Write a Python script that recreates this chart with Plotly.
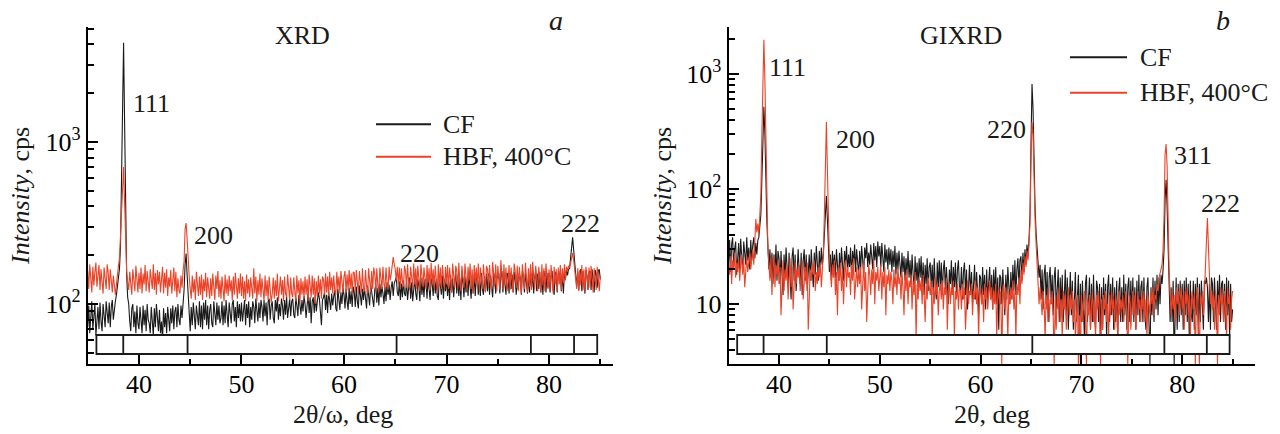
import plotly.graph_objects as go

# ---------------- data (2theta grid: 35.0 .. 85.0, step 0.1) ----------------
two_theta_start = 35.0
two_theta_step = 0.1

# Panel a (XRD, 2theta/omega), intensity in cps
xrd_cf = [
    72, 98, 66, 92, 104, 70, 88, 100, 64, 84,
    96, 70, 102, 78, 68, 100, 86, 72, 104, 82,
    76, 102, 72, 96, 106, 80, 98, 104, 114, 126,
    140, 165, 230, 520, 1900, 4100, 1300, 330, 150, 110,
    100, 78, 68, 94, 100, 72, 90, 66, 98, 76,
    70, 96, 82, 66, 98, 74, 92, 68, 100, 80,
    76, 66, 96, 80, 64, 94, 72, 100, 78, 68,
    92, 66, 78, 60, 94, 72, 88, 66, 96, 74,
    68, 94, 76, 98, 70, 90, 96, 72, 100, 80,
    74, 98, 82, 100, 122, 175, 205, 150, 108, 92,
    68, 96, 74, 102, 80, 70, 98, 84, 74, 104,
    72, 98, 70, 102, 80, 106, 74, 98, 70, 92,
    100, 76, 72, 104, 84, 74, 102, 80, 98, 76,
    82, 104, 74, 98, 76, 106, 86, 72, 102, 88,
    76, 100, 106, 78, 96, 72, 104, 82, 100, 78,
    102, 78, 92, 106, 74, 100, 82, 104, 72, 96,
    80, 104, 96, 76, 108, 88, 78, 102, 82, 106,
    96, 78, 106, 84, 102, 74, 104, 108, 80, 98,
    104, 82, 76, 106, 90, 110, 80, 100, 84, 108,
    98, 80, 106, 86, 112, 82, 102, 108, 84, 104,
    108, 86, 82, 110, 98, 84, 114, 100, 86, 106,
    90, 112, 100, 82, 106, 116, 88, 110, 76, 104,
    110, 88, 114, 90, 104, 118, 108, 90, 74, 106,
    110, 118, 92, 114, 88, 120, 106, 92, 116, 98,
    112, 122, 94, 90, 124, 110, 92, 118, 100, 126,
    114, 94, 124, 104, 92, 126, 100, 120, 96, 128,
    118, 96, 128, 104, 94, 130, 116, 98, 124, 106,
    126, 100, 94, 130, 116, 98, 132, 118, 104, 96,
    122, 132, 102, 126, 98, 134, 110, 128, 116, 100,
    128, 104, 136, 114, 132, 106, 126, 138, 112, 134,
    140, 146, 118, 112, 138, 106, 134, 110, 140, 116,
    112, 140, 106, 132, 146, 108, 136, 104, 130, 144,
    116, 106, 142, 130, 104, 146, 114, 138, 110, 142,
    138, 108, 146, 118, 106, 144, 134, 112, 150, 116,
    142, 112, 106, 148, 134, 114, 150, 108, 142, 120,
    146, 112, 138, 106, 150, 118, 144, 110, 138, 154,
    116, 148, 112, 144, 106, 152, 136, 110, 148, 118,
    142, 112, 154, 122, 108, 148, 116, 152, 112, 142,
    150, 114, 140, 112, 156, 124, 114, 148, 120, 154,
    120, 154, 114, 150, 124, 110, 156, 142, 116, 150,
    144, 156, 116, 150, 160, 118, 154, 126, 114, 156,
    150, 116, 156, 124, 152, 118, 158, 140, 114, 152,
    122, 156, 144, 114, 160, 148, 118, 156, 130, 116,
    152, 118, 158, 126, 156, 116, 146, 160, 120, 154,
    124, 158, 118, 150, 114, 160, 146, 118, 156, 126,
    156, 118, 148, 160, 124, 114, 158, 146, 118, 156,
    146, 160, 120, 156, 116, 158, 144, 162, 150, 164,
    166, 186, 222, 258, 218, 178, 152, 128, 158, 122,
    154, 164, 120, 160, 130, 116, 162, 150, 122, 158,
    160, 122, 164, 134, 118, 162, 152, 126, 160, 164,
    142,
]

xrd_hbf = [
    160, 124, 176, 138, 118, 170, 130, 158, 180, 128,
    152, 174, 122, 164, 136, 116, 168, 146, 124, 176,
    156, 122, 164, 140, 118, 150, 126, 114, 132, 156,
    172, 192, 262, 430, 600, 700, 420, 210, 160, 136,
    122, 158, 130, 114, 164, 142, 120, 172, 136, 118,
    156, 124, 168, 116, 154, 132, 174, 120, 160, 128,
    118, 164, 140, 124, 176, 122, 156, 114, 162, 132,
    158, 118, 142, 170, 116, 156, 126, 164, 112, 146,
    128, 162, 116, 150, 168, 120, 158, 110, 144, 122,
    116, 150, 126, 160, 182, 290, 316, 250, 172, 148,
    124, 108, 150, 118, 142, 106, 158, 122, 112, 148,
    114, 152, 106, 142, 120, 156, 110, 146, 124, 108,
    144, 112, 154, 120, 106, 150, 124, 160, 110, 140,
    108, 148, 120, 104, 152, 116, 142, 112, 150, 120,
    140, 106, 148, 114, 156, 120, 108, 144, 116, 154,
    112, 148, 108, 138, 104, 152, 116, 142, 110, 146,
    120, 108, 166, 116, 148, 104, 140, 114, 154, 110,
    144, 116, 104, 150, 112, 140, 106, 148, 120, 102,
    116, 146, 108, 140, 112, 154, 104, 136, 148, 114,
    140, 104, 148, 116, 110, 152, 120, 106, 146, 116,
    110, 146, 120, 104, 150, 116, 140, 102, 144, 114,
    138, 108, 148, 114, 142, 104, 152, 118, 110, 150,
    114, 144, 100, 138, 112, 150, 116, 142, 108, 148,
    142, 114, 154, 118, 148, 112, 158, 122, 146, 116,
    150, 120, 114, 158, 124, 148, 116, 160, 128, 118,
    148, 160, 118, 152, 122, 162, 124, 154, 114, 158,
    156, 120, 162, 126, 116, 160, 130, 118, 166, 124,
    120, 162, 128, 116, 166, 132, 118, 160, 124, 168,
    154, 122, 166, 130, 118, 168, 136, 124, 170, 132,
    126, 168, 134, 122, 170, 140, 152, 172, 195, 176,
    164, 140, 170, 132, 168, 124, 166, 138, 128, 172,
    160, 126, 176, 136, 122, 170, 144, 126, 178, 132,
    166, 124, 172, 138, 120, 176, 150, 128, 168, 140,
    124, 174, 136, 166, 122, 180, 132, 164, 124, 172,
    146, 120, 176, 130, 168, 124, 174, 140, 122, 170,
    132, 174, 124, 168, 136, 118, 178, 146, 126, 172,
    160, 124, 180, 134, 120, 172, 150, 126, 178, 132,
    122, 170, 140, 178, 124, 164, 116, 174, 136, 168,
    130, 178, 120, 168, 142, 124, 176, 150, 118, 172,
    164, 126, 174, 136, 122, 182, 142, 128, 176, 120,
    172, 134, 122, 186, 144, 124, 176, 132, 168, 120,
    136, 174, 122, 168, 140, 118, 178, 160, 126, 172,
    120, 170, 140, 116, 176, 146, 124, 180, 134, 118,
    166, 128, 176, 122, 182, 148, 124, 172, 136, 120,
    170, 138, 118, 176, 130, 166, 120, 178, 140, 124,
    164, 122, 174, 136, 116, 170, 132, 164, 120, 168,
    132, 174, 122, 166, 134, 176, 140, 170, 160, 172,
    168, 178, 192, 206, 188, 164, 150, 124, 166, 120,
    162, 130, 174, 122, 164, 118, 170, 140, 124, 168,
    126, 172, 140, 118, 166, 134, 122, 170, 146, 120,
    150,
]

# Panel b (GIXRD, 2theta), intensity in cps
gixrd_cf = [
    22, 36, 19, 33, 38, 21, 30, 35, 18, 28,
    34, 20, 37, 26, 19, 35, 29, 22, 38, 24,
    31, 20, 36, 24, 33, 38, 25, 34, 27, 36,
    38, 45, 60, 120, 320, 517, 300, 110, 50, 32,
    20, 30, 17, 28, 15, 27, 19, 33, 16, 29,
    25, 15, 29, 18, 12, 27, 17, 31, 21, 14,
    28, 17, 11, 26, 31, 16, 27, 13, 24, 30,
    19, 15, 28, 12, 24, 30, 16, 27, 13, 22,
    27, 16, 30, 20, 14, 28, 18, 32, 24, 16,
    29, 19, 31, 22, 27, 45, 70, 87, 55, 30,
    19, 27, 16, 29, 20, 27, 17, 30, 22, 16,
    28, 18, 31, 21, 16, 29, 22, 32, 19, 27,
    21, 31, 17, 29, 22, 33, 19, 30, 24, 18,
    29, 20, 32, 23, 18, 31, 25, 34, 21, 28,
    22, 33, 26, 20, 34, 24, 32, 21, 35, 26,
    32, 21, 34, 25, 19, 33, 23, 30, 20, 31,
    22, 30, 19, 29, 21, 32, 18, 28, 20, 29,
    20, 17, 28, 19, 26, 16, 25, 18, 29, 17,
    24, 15, 27, 17, 13, 26, 16, 23, 14, 25,
    17, 26, 14, 23, 12, 22, 15, 25, 13, 21,
    23, 14, 22, 12, 25, 15, 11, 23, 14, 24,
    14, 23, 12, 20, 24, 13, 21, 15, 10, 20,
    15, 24, 12, 21, 14, 23, 12, 20, 24, 14,
    13, 21, 11, 19, 23, 12, 20, 9, 18, 22,
    12, 19, 10, 18, 22, 11, 19, 13, 8, 18,
    17, 10, 21, 12, 18, 9, 20, 11, 17, 21,
    11, 18, 9, 20, 12, 21, 10, 17, 6, 18,
    17, 10, 20, 12, 8, 18, 11, 21, 13, 10,
    19, 11, 22, 13, 24, 12, 20, 25, 14, 24,
    26, 16, 28, 19, 30, 22, 33, 26, 36, 60,
    250, 815, 500, 150, 70, 42, 30, 26, 17, 22,
    11, 20, 9, 18, 22, 10, 19, 7, 17, 21,
    10, 18, 8, 17, 21, 9, 16, 20, 7, 17,
    9, 18, 7, 16, 20, 8, 17, 6, 15, 19,
    8, 16, 6, 15, 19, 7, 14, 18, 5, 15,
    7, 16, 9, 5, 15, 18, 7, 14, 17, 6,
    15, 7, 18, 8, 6, 16, 14, 7, 15, 5,
    14, 6, 17, 8, 15, 5, 14, 18, 7, 15,
    8, 17, 6, 14, 7, 16, 5, 13, 17, 7,
    14, 7, 18, 8, 15, 6, 14, 17, 7, 16,
    8, 17, 7, 14, 6, 16, 8, 18, 7, 14,
    16, 7, 17, 8, 6, 14, 17, 7, 3, 14,
    8, 17, 7, 16, 9, 18, 8, 17, 10, 18,
    15, 20, 30, 80, 120, 70, 30, 14, 7, 14,
    7, 16, 3, 8, 17, 6, 15, 7, 16, 8,
    15, 6, 16, 8, 17, 7, 15, 5, 16, 8,
    7, 16, 6, 15, 8, 17, 5, 15, 7, 16,
    8, 6, 16, 15, 17, 14, 7, 15, 6, 17,
    15, 7, 17, 8, 6, 16, 9, 18, 7, 15,
    16, 7, 15, 6, 17, 8, 16, 5, 15, 7,
    9,
]

gixrd_hbf = [
    22, 18, 26, 15, 24, 20, 28, 17, 23, 19,
    25, 16, 22, 27, 18, 24, 14, 21, 26, 19,
    23, 28, 20, 25, 30, 22, 45, 55, 42, 50,
    40, 55, 90, 300, 1300, 1980, 900, 200, 60, 30,
    22, 16, 25, 12, 20, 27, 14, 22, 18, 24,
    15, 21, 8, 18, 24, 13, 20, 16, 22, 11,
    19, 25, 14, 21, 9, 18, 23, 15, 20, 17,
    22, 13, 19, 24, 11, 18, 21, 15, 23, 6,
    14, 20, 16, 22, 18, 24, 13, 19, 15, 21,
    17, 23, 14, 20, 28, 60, 250, 382, 150, 45,
    25, 20, 14, 22, 17, 24, 12, 19, 8, 21,
    16, 23, 13, 20, 10, 18, 24, 14, 21, 17,
    19, 12, 22, 16, 25, 11, 18, 21, 14, 20,
    15, 21, 9, 18, 23, 13, 19, 7, 16, 22,
    18, 12, 20, 15, 24, 10, 19, 16, 21, 13,
    17, 22, 11, 19, 14, 21, 8, 18, 15, 20,
    13, 19, 16, 10, 20, 14, 18, 12, 21, 15,
    17, 11, 19, 14, 8, 18, 13, 20, 10, 16,
    14, 18, 9, 16, 12, 19, 5, 15, 11, 17,
    13, 16, 10, 18, 12, 7, 15, 11, 17, 14,
    12, 16, 5, 14, 10, 17, 12, 15, 8, 13,
    15, 11, 16, 9, 14, 12, 17, 6, 13, 15,
    10, 14, 12, 16, 5, 13, 11, 15, 9, 14,
    13, 9, 15, 11, 14, 6, 12, 16, 10, 13,
    12, 15, 8, 13, 11, 16, 10, 14, 5, 12,
    14, 10, 13, 7, 15, 11, 14, 9, 12, 16,
    11, 14, 9, 13, 10, 15, 5, 12, 14, 10,
    13, 3, 12, 15, 9, 14, 11, 5, 13, 10,
    14, 11, 16, 9, 13, 5, 15, 12, 17, 10,
    20, 15, 23, 18, 26, 21, 29, 24, 34, 50,
    180, 380, 300, 110, 55, 34, 24, 16, 10, 14,
    11, 8, 13, 10, 5, 12, 9, 14, 7, 11,
    10, 13, 8, 3, 11, 6, 12, 9, 14, 7,
    11, 5, 13, 9, 12, 6, 10, 14, 8, 12,
    9, 13, 7, 11, 5, 10, 12, 3, 8, 3,
    12, 7, 10, 13, 9, 3, 11, 8, 12, 6,
    10, 13, 7, 11, 5, 12, 9, 13, 8, 3,
    11, 6, 12, 9, 13, 7, 10, 5, 12, 8,
    13, 9, 11, 6, 12, 10, 5, 13, 8, 11,
    9, 12, 7, 11, 13, 8, 3, 10, 12, 6,
    11, 13, 8, 12, 6, 10, 13, 9, 11, 7,
    12, 9, 13, 7, 11, 5, 12, 10, 8, 13,
    10, 14, 8, 12, 11, 15, 13, 17, 19, 20,
    22, 30, 60, 200, 246, 160, 50, 20, 12, 8,
    13, 9, 12, 7, 14, 10, 13, 8, 11, 14,
    9, 12, 6, 13, 10, 14, 8, 12, 5, 11,
    13, 9, 12, 3, 11, 14, 7, 3, 12, 10,
    13, 8, 12, 18, 35, 56, 30, 15, 10, 13,
    9, 12, 6, 13, 10, 3, 12, 8, 14, 10,
    12, 7, 13, 9, 5, 14, 10, 12, 6, 11,
    13,
]

# Al reference (PDF) line positions shown in the bar under each pattern
al_ref_lines = [38.47, 44.74, 65.13, 78.23, 82.44]
al_bar_limits = [35.85, 84.7]

series_names = ["CF", "HBF, 400°C"]
x_tickvals = [40, 50, 60, 70, 80]
x_minor_tickvals = [45, 55, 65, 75, 85]
ya_tickvals = [100, 1000]
ya_ticktext = ["10<sup>2</sup>", "10<sup>3</sup>"]
yb_tickvals = [10, 100, 1000]
yb_ticktext = ["10", "10<sup>2</sup>", "10<sup>3</sup>"]

panel_a_peaks = ["111", "200", "220", "222"]
panel_b_peaks = ["111", "200", "220", "311", "222"]

# ---------------- styling ----------------
W, H = 1280, 434
FONT = "Times New Roman"
FS = 26
BLACK = "#1a1a1a"
RED = "#ec4227"


def grid(values):
    return [round(two_theta_start + i * two_theta_step, 1) for i in range(len(values))]


def px(x):
    return x / W


def py(y):
    return 1 - y / H


def minor_log(lo, hi):
    vals = []
    dec = 1
    while dec <= hi:
        for m in range(2, 10):
            v = m * dec
            if lo <= v <= hi:
                vals.append(v)
        dec *= 10
    return vals


fig = go.Figure()
for vals, name, col, xa, ya in [
    (xrd_cf, series_names[0], BLACK, "x", "y"),
    (xrd_hbf, series_names[1], RED, "x", "y"),
    (gixrd_cf, series_names[0], BLACK, "x2", "y2"),
    (gixrd_hbf, series_names[1], RED, "x2", "y2"),
]:
    fig.add_trace(go.Scatter(
        x=grid(vals), y=vals, mode="lines", name=name, showlegend=False,
        line=dict(color=col, width=1.1), xaxis=xa, yaxis=ya,
    ))

y_dom = [py(364.3), py(27)]
common_x = dict(
    showline=True, linecolor="black", linewidth=2, showgrid=False, zeroline=False,
    ticks="inside", ticklen=9, tickwidth=1.5, tickcolor="black",
    tickvals=x_tickvals, ticktext=[str(v) for v in x_tickvals],
    tickfont=dict(family=FONT, size=FS, color="black"),
    minor=dict(tickmode="array", tickvals=x_minor_tickvals, ticks="inside",
               ticklen=5, tickwidth=1.5, tickcolor="black", showgrid=False),
)
common_y = dict(
    type="log", showline=True, linecolor="black", linewidth=2, showgrid=False,
    zeroline=False, ticks="inside", ticklen=10, tickwidth=1.5, tickcolor="black",
    tickfont=dict(family=FONT, size=FS, color="black"),
    domain=y_dom,
)

fig.update_layout(
    width=W, height=H, margin=dict(l=0, r=0, t=0, b=0, autoexpand=False),
    paper_bgcolor="white", plot_bgcolor="white",
    font=dict(family=FONT, size=FS, color="black"),
    xaxis=dict(common_x, domain=[px(87.7), px(612.6)], range=[35, 86.2], anchor="y"),
    yaxis=dict(common_y, range=[1.628, 3.71], anchor="x",
               tickvals=ya_tickvals, ticktext=ya_ticktext,
               minor=dict(tickmode="array", tickvals=minor_log(43, 5100), ticks="inside",
                          ticklen=6, tickwidth=1.5, tickcolor="black", showgrid=False)),
    xaxis2=dict(common_x, domain=[px(728.6), px(1254.8)], range=[35, 87.2], anchor="y2"),
    yaxis2=dict(common_y, range=[0.4775, 3.407], anchor="x2",
                tickvals=yb_tickvals, ticktext=yb_ticktext,
                minor=dict(tickmode="array", tickvals=minor_log(3.1, 2500), ticks="inside",
                           ticklen=6, tickwidth=1.5, tickcolor="black", showgrid=False)),
)
try:
    fig.update_xaxes(ticklabelstandoff=-5)
except ValueError:
    pass

shapes = []
for xa in ["x", "x2"]:
    shapes.append(dict(type="rect", xref=xa, yref="paper",
                       x0=al_bar_limits[0], x1=al_bar_limits[1], y0=py(354), y1=py(335),
                       fillcolor="white", line=dict(color=BLACK, width=1.8), layer="above"))
    for r in al_ref_lines:
        shapes.append(dict(type="line", xref=xa, yref="paper", x0=r, x1=r,
                           y0=py(354), y1=py(335), line=dict(color=BLACK, width=1.8),
                           layer="above"))

# legend keys (drawn manually: two legends, one per panel)
legend_pos = [  # (line x0, line x1, text x, y_CF, y_HBF)
    (376, 431, 441, 124.3, 156.7),
    (1070, 1127, 1138, 57.3, 92.7),
]
annotations = []
for lx0, lx1, tx, yc, yh in legend_pos:
    for name, col, yy in [(series_names[0], BLACK, yc), (series_names[1], RED, yh)]:
        shapes.append(dict(type="line", xref="paper", yref="paper",
                           x0=px(lx0), x1=px(lx1), y0=py(yy), y1=py(yy),
                           line=dict(color=col, width=2)))
        annotations.append(dict(text=name, x=px(tx), y=py(yy), xref="paper", yref="paper",
                                xanchor="left", yanchor="middle", showarrow=False,
                                font=dict(family=FONT, size=FS, color=BLACK)))


def label(text, x, y, xanchor="left", italic=False, size=FS):
    annotations.append(dict(text=f"<i>{text}</i>" if italic else text,
                            x=px(x), y=py(y), xref="paper", yref="paper",
                            xanchor=xanchor, yanchor="middle", showarrow=False,
                            font=dict(family=FONT, size=size, color=BLACK)))


# panel titles and letters
label("XRD", 302, 35, "center")
label("GIXRD", 961, 35, "center")
label("a", 556, 20, "center", italic=True, size=28)
label("b", 1223, 20, "center", italic=True, size=28)

# peak labels (hkl)
for t, (x, y) in zip(panel_a_peaks, [(131, 103.5), (192, 235), (398, 253), (559, 223.5)]):
    label(t, x, y)
for t, (x, y) in zip(panel_b_peaks, [(767, 67), (834, 140), (1028, 130), (1172, 155), (1199, 203.5)]):
    label(t, x, y, "right" if t == "220" else "left")

# axis titles
for xx in [20, 662]:
    annotations.append(dict(text="<i>Intensity</i>, cps", x=px(xx), y=py(196),
                            xref="paper", yref="paper", xanchor="center", yanchor="middle",
                            textangle=-90, showarrow=False,
                            font=dict(family=FONT, size=FS, color=BLACK)))
label("2θ/ω, deg", 343, 414, "center")
label("2θ, deg", 992, 414, "center")

fig.update_layout(shapes=shapes, annotations=annotations)
fig.write_html("out.html", config={"displayModeBar": False},
               post_script="document.body.style.margin='0';document.body.style.padding='0';")
